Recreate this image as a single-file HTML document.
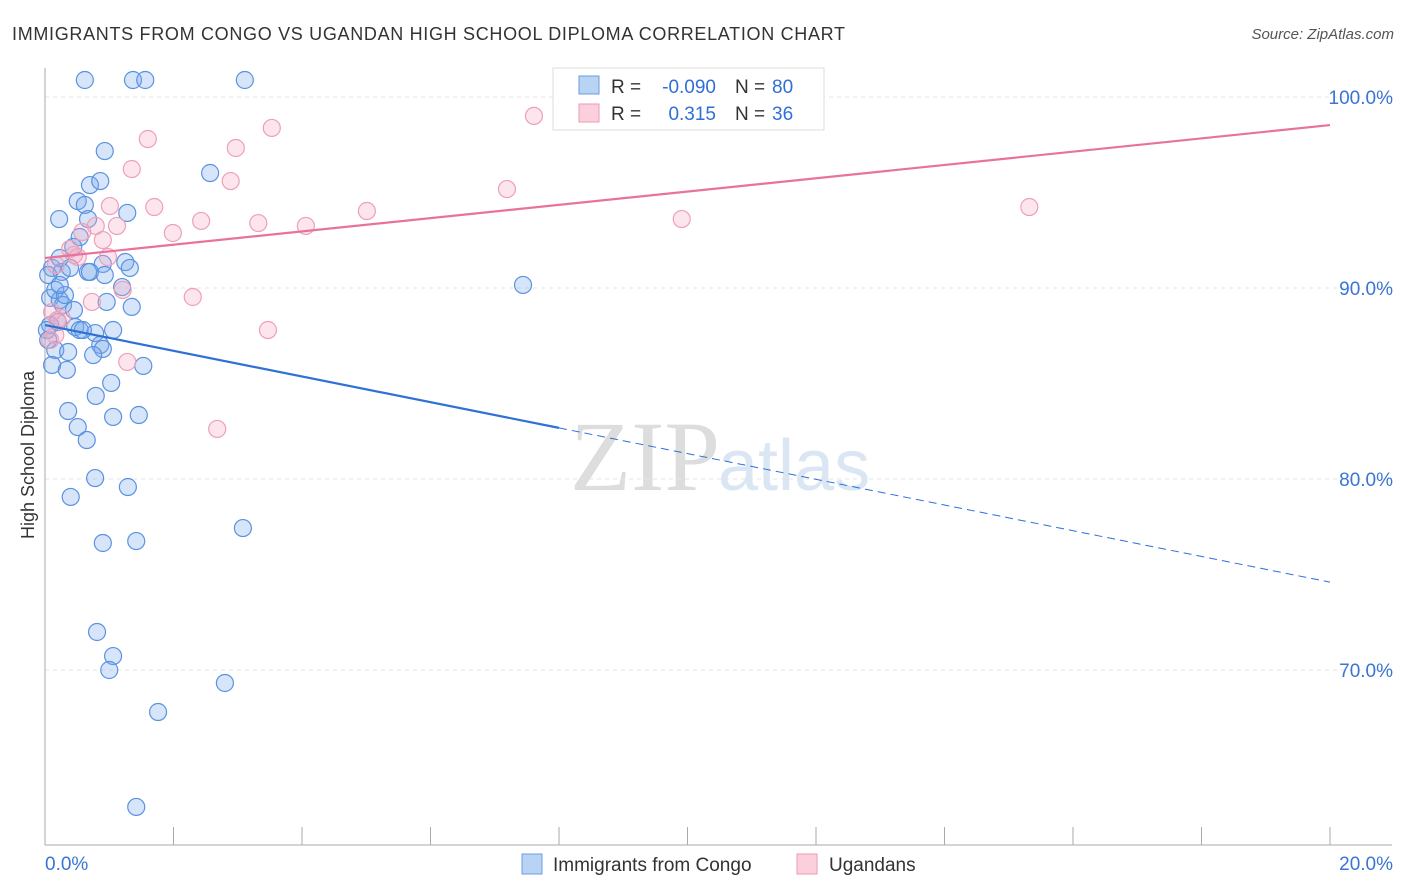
<!DOCTYPE html>
<html><head><meta charset="utf-8"><style>
body{margin:0;background:#fff;font-family:"Liberation Sans",sans-serif}
svg{display:block}
</style></head><body>
<svg id="chart" width="1406" height="892">
<text x="12" y="40" font-size="18" fill="#333" textLength="833">IMMIGRANTS FROM CONGO VS UGANDAN HIGH SCHOOL DIPLOMA CORRELATION CHART</text>
<text x="1394" y="39" font-size="15" fill="#555" font-style="italic" text-anchor="end">Source: ZipAtlas.com</text>
<text x="720" y="490" font-size="100" fill="#ddd" text-anchor="end" font-family="Liberation Serif">ZIP</text>
<text x="718" y="490" font-size="72" fill="#dbe6f5">atlas</text>
<text transform="translate(34,455) rotate(-90)" font-size="18" fill="#333" text-anchor="middle">High School Diploma</text>
<g id="grid"></g><g id="axes"></g><g id="marks"></g>
<g>
<rect x="553" y="68" width="271" height="62" fill="#fff" stroke="#ddd"/>
<rect x="579" y="76" width="20" height="18" fill="#b8d4f5" stroke="#6a9be0"/>
<rect x="579" y="104" width="20" height="18" fill="#fbd0dc" stroke="#eb9ab2"/>
<text x="611" y="93" font-size="19" fill="#333">R =</text>
<text x="716" y="93" font-size="19" fill="#2f6fd6" text-anchor="end">-0.090</text>
<text x="735" y="93" font-size="19" fill="#333">N =</text>
<text x="772" y="93" font-size="19" fill="#2f6fd6">80</text>
<text x="611" y="120" font-size="19" fill="#333">R =</text>
<text x="716" y="120" font-size="19" fill="#2f6fd6" text-anchor="end">0.315</text>
<text x="735" y="120" font-size="19" fill="#333">N =</text>
<text x="772" y="120" font-size="19" fill="#2f6fd6">36</text>
</g>
<g>
<rect x="522" y="854" width="20" height="20" fill="#b8d4f5" stroke="#6a9be0"/>
<text x="553" y="871" font-size="19" fill="#333">Immigrants from Congo</text>
<rect x="797" y="854" width="20" height="20" fill="#fbd0dc" stroke="#eb9ab2"/>
<text x="829" y="871" font-size="19" fill="#333">Ugandans</text>
</g>
</svg>
<script>
const blueX=[],blueY=[],pinkX=[],pinkY=[];
const bluePx=[[85,80],[133,80],[145,80],[245,80],[105,151],[210,173],[90,185],[100,181],[78,201],[85,205],[59,219],[88,219],[127,213],[80,237],[73,247],[52,268],[62,272],[70,268],[88,272],[103,264],[125,262],[130,268],[90,272],[523,285],[50,298],[60,300],[63,305],[107,302],[132,307],[122,287],[74,310],[50,325],[58,322],[75,327],[80,330],[95,333],[113,330],[83,330],[100,345],[103,349],[55,350],[68,352],[93,355],[143,366],[52,365],[67,370],[111,383],[96,396],[68,411],[113,417],[139,415],[78,427],[87,440],[95,478],[71,497],[128,487],[243,528],[103,543],[136,541],[97,632],[113,656],[109,670],[225,683],[158,712],[136,807],[47,330],[48,340],[55,290],[65,295],[48,275],[60,258],[105,275],[60,285]];
const pinkPx=[[534,116],[148,139],[272,128],[236,148],[132,169],[231,181],[507,189],[154,207],[110,206],[367,211],[1029,207],[682,219],[201,221],[258,223],[306,226],[173,233],[117,226],[96,226],[82,232],[103,240],[70,249],[78,257],[56,265],[108,257],[123,290],[193,297],[92,302],[268,330],[57,320],[127,362],[217,429],[50,340],[55,335],[62,318],[74,255],[52,312]];
// data values (percent)
bluePx.forEach(p=>{blueX.push(+((p[0]-45)/1285*20).toFixed(2));blueY.push(+(100-(p[1]-97)/19.1).toFixed(2));});
pinkPx.forEach(p=>{pinkX.push(+((p[0]-45)/1285*20).toFixed(2));pinkY.push(+(100-(p[1]-97)/19.1).toFixed(2));});
const yTicks=[100,90,80,70];
const xTickLabels=["0.0%","20.0%"];
const blueTrend=[88.06,74.6];
const pinkTrend=[91.57,98.53];
const sx=v=>45+v/20*1285, sy=v=>97+(100-v)*19.1;
const NS="http://www.w3.org/2000/svg";
function mk(tag,attrs,parent){const e=document.createElementNS(NS,tag);for(const k in attrs)e.setAttribute(k,attrs[k]);parent.appendChild(e);return e;}
const grid=document.getElementById('grid'),axes=document.getElementById('axes'),marks=document.getElementById('marks');
yTicks.forEach(t=>{
 const l=mk('line',{x1:45,x2:1392,y1:sy(t),y2:sy(t),stroke:'#e4e4e4','stroke-dasharray':'4,4'},grid);
 
 
 const tx=mk('text',{x:1393,y:sy(t)+7,'font-size':19,fill:'#3a74d4','text-anchor':'end'},axes);
 tx.textContent=t.toFixed(1)+'%';
 
 
});
mk('line',{x1:45,x2:45,y1:68,y2:845,stroke:'#aaa'},axes);
mk('line',{x1:45,x2:1392,y1:845,y2:845,stroke:'#aaa'},axes);
for(let i=0;i<=10;i++){mk('line',{x1:sx(i*2),x2:sx(i*2),y1:827,y2:845,stroke:'#aaa'},axes);}
[[0,'start',45],[1,'end',1393]].forEach(([i,a,x])=>{const t=mk('text',{x:x,y:870,'font-size':19,fill:'#3a74d4','text-anchor':a},axes);t.textContent=xTickLabels[i];
 
 });
blueX.forEach((x,i)=>{const c=mk('circle',{cx:sx(x),cy:sy(blueY[i]),r:8.5,fill:'rgba(120,170,235,0.3)',stroke:'#5b92e0','stroke-width':1.2},marks);
 
 });
pinkX.forEach((x,i)=>{const c=mk('circle',{cx:sx(x),cy:sy(pinkY[i]),r:8.5,fill:'rgba(245,170,195,0.3)',stroke:'#eea0b8','stroke-width':1.2},marks);
 
 });
const bAt=x=>blueTrend[0]+(blueTrend[1]-blueTrend[0])*x/20;
const bl=mk('line',{x1:sx(0),y1:sy(bAt(0)),x2:sx(8),y2:sy(bAt(8)),stroke:'#2e70d6','stroke-width':2.2},marks);


const bd=mk('line',{x1:sx(8),y1:sy(bAt(8)),x2:sx(20),y2:sy(bAt(20)),stroke:'#2e70d6','stroke-width':1,'stroke-dasharray':'8,5'},marks);


const pl=mk('line',{x1:sx(0),y1:sy(pinkTrend[0]),x2:sx(20),y2:sy(pinkTrend[1]),stroke:'#e8739a','stroke-width':2.2},marks);


</script>
</body></html>
